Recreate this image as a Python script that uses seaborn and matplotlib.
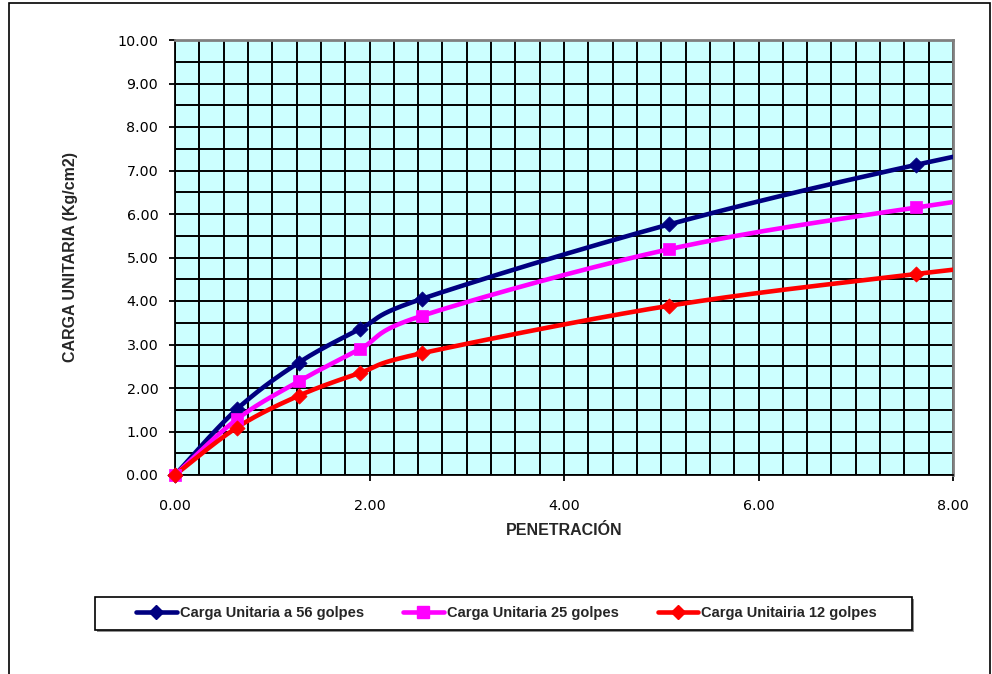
"""CBR chart: carga unitaria vs penetracion."""
import numpy as np
import pandas as pd
import matplotlib
matplotlib.use("Agg")
import matplotlib.pyplot as plt
from matplotlib.lines import Line2D
from matplotlib.patches import Rectangle
from matplotlib.ticker import MultipleLocator, FormatStrFormatter
import seaborn as sns

# data
penetracion = [0.0, 0.635, 1.27, 1.905, 2.54, 5.08, 7.62, 10.16]
carga_56 = [0.0, 1.51, 2.58, 3.36, 4.05, 5.76, 7.13, 8.28]
carga_25 = [0.0, 1.28, 2.15, 2.90, 3.66, 5.19, 6.15, 6.92]
carga_12 = [0.0, 1.09, 1.82, 2.35, 2.80, 3.89, 4.62, 5.25]

series_names = ["Carga Unitaria a 56 golpes", "Carga Unitaria 25 golpes",
                "Carga Unitairia 12 golpes"]
series_colors = ["#000080", "#FF00FF", "#FF0000"]
series_markers = ["D", "s", "D"]


def smooth(x, y, n=40):
    """Excel-like smoothed line (Catmull-Rom / Bezier)."""
    p = np.column_stack([x, y]).astype(float)
    p = np.vstack([p[0], p, p[-1]])
    t = np.linspace(0, 1, n)[:, None]
    out = []
    for i in range(1, len(p) - 2):
        p0, p1, p2, p3 = p[i - 1], p[i], p[i + 1], p[i + 2]
        c1 = p1 + (p2 - p0) / 6
        c2 = p2 - (p3 - p1) / 6
        seg = ((1 - t) ** 3) * p1 + 3 * ((1 - t) ** 2) * t * c1 \
            + 3 * (1 - t) * t ** 2 * c2 + t ** 3 * p2
        out.append(seg)
    out = np.vstack(out)
    return out[:, 0], out[:, 1]


sns.set_style("white")
plt.rcParams["font.family"] = ["DejaVu Sans"]

W, H = 992, 674
fig = plt.figure(figsize=(W / 100, H / 100), dpi=100)
ax = fig.add_axes([175 / W, 1 - 475 / H, 778 / W, 435 / H])
ax.set_facecolor("#CCFFFF")

values = [carga_56, carga_25, carga_12]
handles = []
for name, vals, col, mk in zip(series_names, values, series_colors, series_markers):
    sx, sy = smooth(penetracion, vals)
    curve = pd.DataFrame({"x": sx, "y": sy})
    sns.lineplot(data=curve, x="x", y="y", ax=ax, color=col, lw=3.3,
                 sort=False, estimator=None, zorder=3)
    pts = pd.DataFrame({"x": penetracion, "y": vals})
    pts = pts[pts["x"] <= 8]
    sns.scatterplot(data=pts, x="x", y="y", ax=ax, color=col, marker=mk,
                    s=75 if mk == "s" else 60, edgecolor=col, linewidth=0.5,
                    zorder=4, clip_on=False)
    handles.append(Line2D([], [], color=col, lw=3.3, marker=mk,
                          markersize=8 if mk == "s" else 7, label=name))

ax.set_xlim(0, 8)
ax.set_ylim(0, 10)
ax.xaxis.set_major_locator(MultipleLocator(2))
ax.xaxis.set_minor_locator(MultipleLocator(0.25))
ax.yaxis.set_major_locator(MultipleLocator(1))
ax.yaxis.set_minor_locator(MultipleLocator(0.5))
ax.xaxis.set_major_formatter(FormatStrFormatter("%.2f"))
ax.yaxis.set_major_formatter(FormatStrFormatter("%.2f"))
ax.grid(which="both", color="black", lw=1.4)
ax.set_axisbelow(True)

ax.tick_params(which="major", direction="out", length=4, width=1.3,
               color="black", labelsize=10.3, labelcolor="black",
               left=True, bottom=True)
ax.tick_params(axis="y", pad=8)
ax.tick_params(axis="x", pad=13)
ax.tick_params(which="minor", length=0)

for side in ["left", "bottom"]:
    ax.spines[side].set_color("black")
    ax.spines[side].set_linewidth(1.3)
for side in ["top", "right"]:
    ax.spines[side].set_color("#808080")
    ax.spines[side].set_linewidth(2)

ax.set_xlabel("PENETRACIÓN", fontsize=11.5, fontweight="bold",
              family="Liberation Sans")
ax.set_ylabel("CARGA UNITARIA (Kg/cm2)", fontsize=11.5, fontweight="bold",
              family="Liberation Sans")
ax.xaxis.set_label_coords(0.5, -0.11)
ax.yaxis.set_label_coords(-0.125, 0.5)

# legend entries spread across the box, frame drawn separately
leg = fig.legend(handles=handles, loc="center", mode="expand",
                 bbox_to_anchor=(136 / W, 1 - 625 / H, 741 / W, 24 / H),
                 ncol=3, frameon=False, borderpad=0, borderaxespad=0,
                 prop={"family": "Liberation Sans", "weight": "bold", "size": 10.5},
                 handlelength=2.8, handletextpad=0.2)
fig.patches.append(Rectangle((97 / W, 1 - 632 / H), 817 / W, 33 / H,
                             transform=fig.transFigure, fill=True,
                             facecolor="#909090", edgecolor="none", zorder=0))
fig.patches.append(Rectangle((95 / W, 1 - 630 / H), 817 / W, 33 / H,
                             transform=fig.transFigure, fill=True,
                             facecolor="white", edgecolor="black", lw=1.2,
                             zorder=1))

# outer chart border (bottom is cut off in the original)
fig.patches.append(Rectangle((9 / W, -0.05), (990 - 9) / W, 1.05 - 3 / H,
                             transform=fig.transFigure, fill=False,
                             edgecolor="black", lw=1.2))

fig.savefig("out.png", dpi=100)
plt.close(fig)
